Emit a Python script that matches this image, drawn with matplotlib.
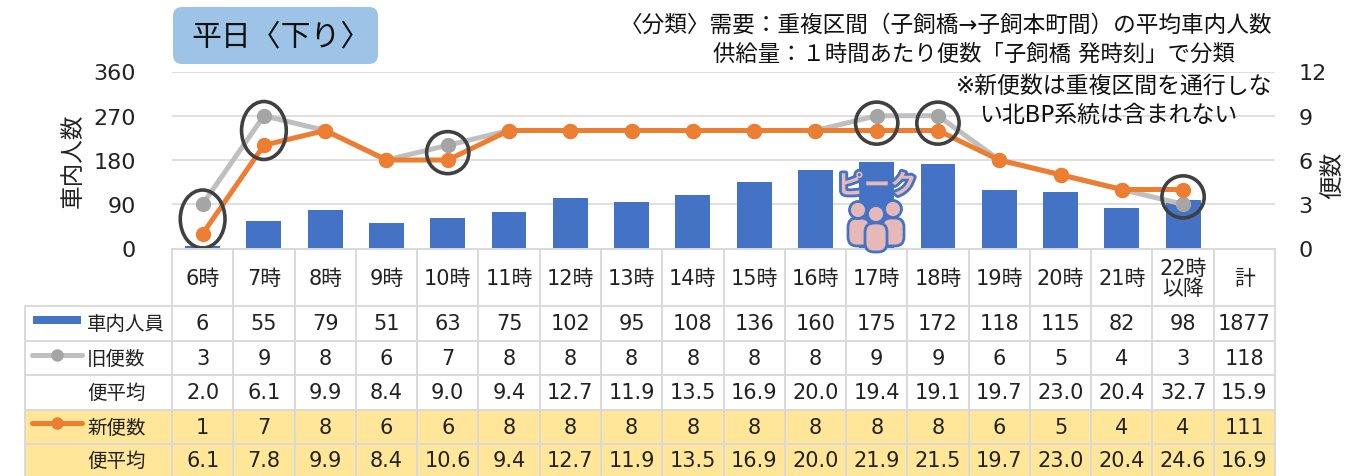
import numpy as np
import matplotlib
matplotlib.use('Agg')
import matplotlib.pyplot as plt
import matplotlib.patheffects as pe
from matplotlib.patches import Ellipse, FancyBboxPatch, Circle, Rectangle

plt.rcParams['font.family'] = ['DejaVu Sans', 'Noto Sans CJK JP']

hours = ['6時', '7時', '8時', '9時', '10時', '11時', '12時', '13時', '14時', '15時', '16時', '17時', '18時', '19時', '20時', '21時', '22時\n以降', '計']
riders = [6, 55, 79, 51, 63, 75, 102, 95, 108, 136, 160, 175, 172, 118, 115, 82, 98]
old_trips = [3, 9, 8, 6, 7, 8, 8, 8, 8, 8, 8, 9, 9, 6, 5, 4, 3]
old_avg = [2.0, 6.1, 9.9, 8.4, 9.0, 9.4, 12.7, 11.9, 13.5, 16.9, 20.0, 19.4, 19.1, 19.7, 23.0, 20.4, 32.7]
new_trips = [1, 7, 8, 6, 6, 8, 8, 8, 8, 8, 8, 8, 8, 6, 5, 4, 4]
new_avg = [6.1, 7.8, 9.9, 8.4, 10.6, 9.4, 12.7, 11.9, 13.5, 16.9, 20.0, 21.9, 21.5, 19.7, 23.0, 20.4, 24.6]
totals = ['1877', '118', '15.9', '111', '16.9']
circled = [0, 1, 4, 11, 12, 16]
left_ticks = [0, 90, 180, 270, 360]
right_ticks = [0, 3, 6, 9, 12]

W, H = 1355, 477
L, R, T, B = 172, 1275, 72.5, 249.5
GRID = '#d9d9d9'
BLUE = '#4472c4'
ORANGE = '#ed7d31'

fig = plt.figure(figsize=(13.55, 4.77), dpi=100)
ax = fig.add_axes([L/W, 1-B/H, (R-L)/W, (B-T)/H])
x = np.arange(len(riders))
ax.bar(x, riders, width=0.57, color=BLUE, zorder=2)
ax.set_xlim(-0.5, 17.5)
ax.set_ylim(0, 360)
ax.set_yticks(left_ticks)
ax.set_xticks([])
ax.tick_params(axis='y', length=0, labelsize=16, pad=26, labelcolor='#222222')
ax.grid(axis='y', color=GRID, lw=1.2, zorder=1)
ax.set_axisbelow(True)
for s in ax.spines.values():
    s.set_visible(False)

ax2 = ax.twinx()
ax2.plot(x, old_trips, '-o', color='#bfbfbf', mfc='#a5a5a5', mec='#a5a5a5', lw=3.6, ms=10, zorder=3, clip_on=False)
ax2.plot(x, new_trips, '-o', color=ORANGE, lw=3.6, ms=10, zorder=4, clip_on=False)
ax2.set_ylim(0, 12)
ax2.set_yticks(right_ticks)
ax2.tick_params(axis='y', length=0, labelsize=16, pad=17, labelcolor='#222222')
for s in ax2.spines.values():
    s.set_visible(False)
for i in circled:
    # ellipses sit midway between the old and new marks
    big = i < 2
    ax2.add_patch(Ellipse((i, (old_trips[i]+new_trips[i])/2), 0.73 if big else 0.69, 3.93 if big else 2.85,
                          fc='none', ec='#404040', lw=2.6, zorder=5, clip_on=False))

# overlay in pixel coordinates for table, notes and peak icon
tb = fig.add_axes([0, 0, 1, 1], zorder=10)
tb.set_xlim(0, W)
tb.set_ylim(H, 0)
tb.axis('off')

rows = [250, 307, 342, 376, 411, 445, 480]
cw = (R-L)/18
tb.add_patch(Rectangle((25, 411), R-25, 69, fc='#ffe699', ec='none', zorder=0))
for k in range(19):
    tb.plot([L+k*cw]*2, [rows[0], H], color=GRID, lw=1.4, zorder=1)
tb.plot([25, 25], [rows[1], H], color=GRID, lw=1.4, zorder=1)
tb.plot([L, R], [rows[0]]*2, color=GRID, lw=1.4, zorder=1)
for yy in rows[1:-1]:
    tb.plot([25, R], [yy]*2, color=GRID, lw=1.4, zorder=1)

TXT = '#222222'
for k, h in enumerate(hours):
    tb.text(L+(k+.5)*cw, 279, h, ha='center', va='center', fontsize=15, color=TXT, linespacing=1.05)

labels = ['車内人員', '旧便数', '便平均', '新便数', '便平均']
table = [[str(v) for v in riders], [str(v) for v in old_trips], ['%.1f' % v for v in old_avg],
         [str(v) for v in new_trips], ['%.1f' % v for v in new_avg]]
for r in range(5):
    yc = (rows[r+1]+rows[r+2])/2 + (0 if r < 4 else -1)
    tb.text(87, yc, labels[r], ha='left', va='center', fontsize=14, color=TXT)
    for k, v in enumerate(table[r]+[totals[r]]):
        tb.text(L+(k+.5)*cw, yc, v, ha='center', va='center', fontsize=15, color=TXT)

tb.add_patch(Rectangle((33, 317), 48, 8, fc=BLUE, ec='none'))
tb.plot([32, 82], [356, 356], '-', color='#bfbfbf', lw=3.6, solid_capstyle='round')
tb.plot([57], [356], 'o', color='#a5a5a5', ms=8)
tb.plot([32, 82], [424, 424], '-', color=ORANGE, lw=3.6, solid_capstyle='round')
tb.plot([57], [424], 'o', color=ORANGE, ms=8)

# title box
tb.add_patch(FancyBboxPatch((173, 8), 205, 57, boxstyle='round,pad=0,rounding_size=9', fc='#9dc3e6', ec='none', zorder=2))
tb.text(281, 37, '平日〈下り〉', ha='center', va='center', fontsize=21.5, color='#111111', zorder=3)

# notes
tb.text(1272, 25, '〈分類〉需要：重複区間（子飼橋→子飼本町間）の平均車内人数', ha='right', va='center', fontsize=16.3, color='#111111')
tb.text(1235, 54, '供給量：１時間あたり便数「子飼橋 発時刻」で分類', ha='right', va='center', fontsize=16.1, color='#111111')
tb.text(1272, 86, '※新便数は重複区間を通行しな', ha='right', va='center', fontsize=16.5, color='#111111')
tb.text(1237, 115, 'い北BP系統は含まれない', ha='right', va='center', fontsize=16.5, color='#111111')

tb.text(73, 161, '車内人数', rotation=90, ha='center', va='center', fontsize=17, color=TXT)
tb.text(1332, 175, '便数', rotation=90, ha='center', va='center', fontsize=17, color=TXT)

# peak icon
PINK = '#e6b8b7'
for bx, by, bh in [(859, 219, 28), (893, 219, 28), (876, 224, 29)]:
    tb.add_patch(FancyBboxPatch((bx-11, by), 22, bh, boxstyle='round,pad=0,rounding_size=9', fc=PINK, ec=BLUE, lw=2, zorder=6))
for cx, cy in [(858, 211), (893, 210), (876, 215)]:
    tb.add_patch(Circle((cx, cy), 8.5, fc=PINK, ec=BLUE, lw=2, zorder=7))
tb.text(877, 187, 'ピーク', ha='center', va='center', fontsize=19, fontweight='bold', color=PINK, zorder=8,
        family=['Noto Sans CJK JP'], path_effects=[pe.withStroke(linewidth=4, foreground=BLUE)])

plt.savefig('out.png', dpi=100)
